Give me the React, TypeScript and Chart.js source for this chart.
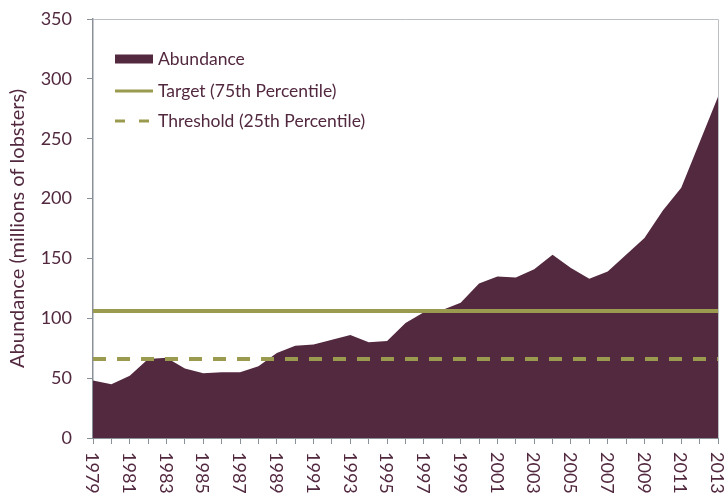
import React, { useEffect, useRef } from "react";
import { Chart, registerables } from "chart.js";

Chart.register(...registerables);

const years = [
  "1979", "1980", "1981", "1982", "1983", "1984", "1985", "1986", "1987", "1988",
  "1989", "1990", "1991", "1992", "1993", "1994", "1995", "1996", "1997", "1998",
  "1999", "2000", "2001", "2002", "2003", "2004", "2005", "2006", "2007", "2008",
  "2009", "2010", "2011", "2012", "2013",
];
const abundance = [
  48, 45, 52, 66, 67, 58, 54, 55, 55, 60,
  71, 77, 78, 82, 86, 80, 81, 96, 105, 107,
  113, 129, 135, 134, 141, 153, 142, 133, 139, 153,
  167, 190, 209, 247, 285,
];
const targetValue = 106;
const thresholdValue = 66;
const target = years.map(() => targetValue);
const threshold = years.map(() => thresholdValue);
const yTicks = [0, 50, 100, 150, 200, 250, 300, 350];

const TEXT = "#52283F";
const AREA = "#53293F";
const GREEN = "#9A9B4F";
const AXIS = "#8A9097";
const FRAME = "#BCC0C4";
const FONT = "Lato";

const customPlugin = {
  id: "customDraw",
  afterDraw(chart: any) {
    const { ctx, chartArea } = chart;
    const xScale = chart.scales.x;
    ctx.save();
    // frame top/right
    ctx.strokeStyle = FRAME;
    ctx.lineWidth = 1;
    ctx.beginPath();
    ctx.moveTo(chartArea.left, chartArea.top + 0.5);
    ctx.lineTo(chartArea.right + 0.5, chartArea.top + 0.5);
    ctx.lineTo(chartArea.right + 0.5, chartArea.bottom);
    ctx.stroke();

    // x labels, rotated clockwise
    ctx.fillStyle = TEXT;
    ctx.font = `18px ${FONT}`;
    ctx.textAlign = "left";
    ctx.textBaseline = "middle";
    years.forEach((lab, i) => {
      if (i % 2 !== 0) return;
      const x = xScale.getPixelForValue(i);
      ctx.save();
      ctx.translate(x - 1, chartArea.bottom + 14);
      ctx.rotate(Math.PI / 2);
      ctx.fillText(lab, 0, 0);
      ctx.restore();
    });

    // legend
    const ds = chart.data.datasets;
    const lx = 115;
    const sw = 38;
    const tx = 158;
    const rows = [59, 91, 121];
    ctx.font = `17.5px ${FONT}`;
    ctx.textBaseline = "middle";
    ctx.textAlign = "left";
    // Abundance
    const areaDs = ds.find((d: any) => d.label === "Abundance");
    ctx.fillStyle = areaDs.backgroundColor;
    ctx.fillRect(lx, rows[0] - 4.5, sw, 9);
    ctx.fillStyle = TEXT;
    ctx.fillText(areaDs.label, tx, rows[0]);
    // Target
    const tDs = ds.find((d: any) => d.label.startsWith("Target"));
    ctx.strokeStyle = tDs.borderColor;
    ctx.lineWidth = 3;
    ctx.beginPath();
    ctx.moveTo(lx, rows[1]);
    ctx.lineTo(lx + sw, rows[1]);
    ctx.stroke();
    ctx.fillText(tDs.label, tx, rows[1]);
    // Threshold
    const thDs = ds.find((d: any) => d.label.startsWith("Threshold"));
    ctx.strokeStyle = thDs.borderColor;
    ctx.setLineDash([10, 14]);
    ctx.beginPath();
    ctx.moveTo(lx, rows[2]);
    ctx.lineTo(lx + sw, rows[2]);
    ctx.stroke();
    ctx.setLineDash([]);
    ctx.fillText(thDs.label, tx, rows[2]);
    ctx.restore();
  },
};

export default function App() {
  const ref = useRef<HTMLCanvasElement>(null);
  useEffect(() => {
    document.body.style.margin = "0";
    if (!ref.current) return;
    const chart = new Chart(ref.current, {
      type: "line",
      data: {
        labels: years,
        datasets: [
          {
            label: "Target (75th Percentile)",
            data: target,
            borderColor: GREEN,
            borderWidth: 4,
            pointRadius: 0,
            fill: false,
            order: 1,
          },
          {
            label: "Threshold (25th Percentile)",
            data: threshold,
            borderColor: GREEN,
            borderWidth: 4,
            borderDash: [13, 11],
            pointRadius: 0,
            fill: false,
            order: 1,
          },
          {
            label: "Abundance",
            data: abundance,
            borderColor: AREA,
            backgroundColor: AREA,
            borderWidth: 0,
            pointRadius: 0,
            fill: "origin",
            tension: 0,
            order: 2,
          },
        ],
      },
      options: {
        responsive: false,
        animation: false,
        layout: { padding: { top: 19, right: 7, bottom: 0, left: 0 } },
        plugins: {
          legend: { display: false },
          tooltip: { enabled: false },
        },
        scales: {
          x: {
            type: "category",
            offset: false,
            grid: {
              drawOnChartArea: false,
              drawTicks: true,
              tickLength: 6,
              color: AXIS,
            },
            border: { color: AXIS, width: 1 },
            ticks: { display: false, autoSkip: false },
            afterFit: (scale: any) => {
              scale.height = 57;
            },
          },
          y: {
            min: 0,
            max: 350,
            afterBuildTicks: (scale: any) => {
              scale.ticks = yTicks.map((v) => ({ value: v }));
            },
            grid: {
              drawOnChartArea: false,
              drawTicks: true,
              tickLength: 6,
              color: AXIS,
            },
            border: { color: AXIS, width: 1.5 },
            ticks: {
              padding: 15,
              color: TEXT,
              font: { family: FONT, size: 18 },
            },
            title: {
              display: true,
              text: "Abundance (millions of lobsters)",
              color: TEXT,
              font: { family: FONT, size: 20 },
              padding: { top: 6, bottom: 0 },
            },
            afterFit: (scale: any) => {
              scale.width = 93;
              scale.paddingTop = 10;
              scale.paddingBottom = 10;
            },
          },
        },
      },
      plugins: [customPlugin],
    });
    return () => chart.destroy();
  }, []);
  return (
    <div style={{ width: 725, height: 495 }}>
      <canvas ref={ref} width={725} height={495} />
    </div>
  );
}
